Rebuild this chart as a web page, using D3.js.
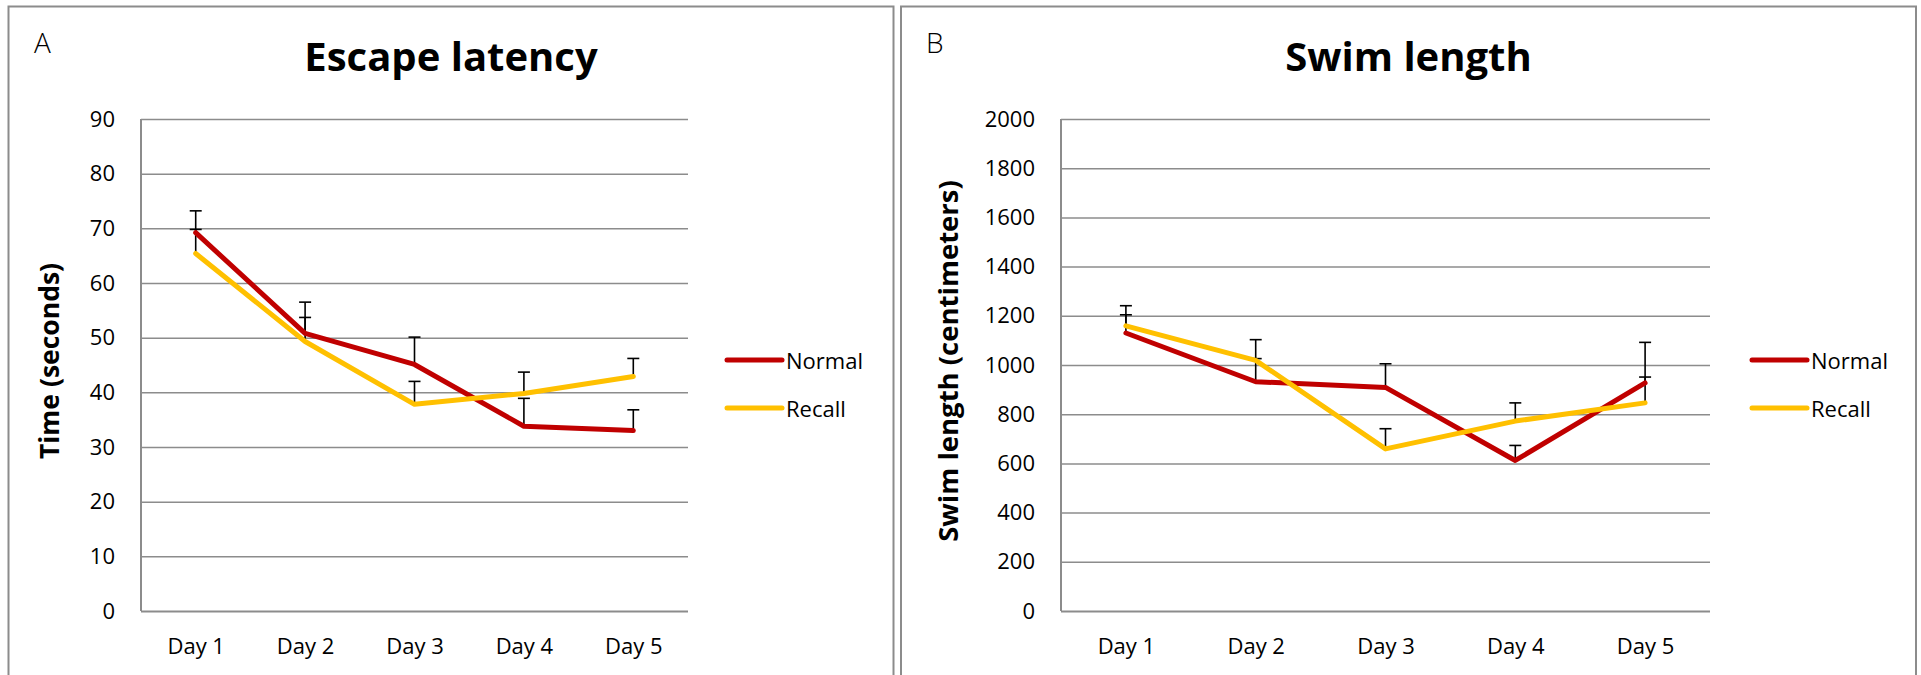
<!DOCTYPE html>
<html>
<head>
<meta charset="utf-8">
<script src="https://cdn.jsdelivr.net/npm/d3@7"></script>
<style>
    body { margin: 0; background: #fff; }
    svg { display: block; font-family: "Open Sans", "DejaVu Sans", sans-serif; }
</style>
</head>
<body>
<script>
(function() {
    // categories
    var days = ["Day 1", "Day 2", "Day 3", "Day 4", "Day 5"];
    var seriesNames = ["Normal", "Recall"];

    // escape latency (seconds)
    var latencyNormal = [69.2, 50.8, 45.1, 33.8, 33.0];
    var latencyRecall = [65.4, 49.3, 37.8, 39.8, 42.9];
    var latencyNormalErr = [4.0, 5.7, 5.0, 5.1, 3.8];
    var latencyRecallErr = [4.4, 4.4, 4.2, 3.9, 3.3];
    var latencyTicks = [0, 10, 20, 30, 40, 50, 60, 70, 80, 90];

    // swim length (centimeters)
    var swimNormal = [1130, 932, 909, 612, 927];
    var swimRecall = [1159, 1019, 659, 772, 846];
    var swimNormalErr = [74, 94, 96, 61, 165];
    var swimRecallErr = [82, 84, 82, 74, 105];
    var swimTicks = [0, 200, 400, 600, 800, 1000, 1200, 1400, 1600, 1800, 2000];

    // settings
    var colors = { Normal: "#C00000", Recall: "#FFC000" };
    var gridColor = "#8c8c8c";

    var svg = d3.select("body").append("svg")
        .attr("width", 1921)
        .attr("height", 675);

    drawPanel({
        box: [8.5, 893.5],
        plot: { left: 141, right: 688, top: 119, bottom: 611 },
        letter: "A",
        letterX: 34,
        title: "Escape latency",
        yTitle: "Time (seconds)",
        yTitleX: 49,
        yTitleSize: 26.5,
        ticks: latencyTicks,
        normal: latencyNormal, recall: latencyRecall,
        normalErr: latencyNormalErr, recallErr: latencyRecallErr,
        legendX: 727
    });

    drawPanel({
        box: [901, 1916],
        plot: { left: 1061, right: 1710, top: 119, bottom: 611 },
        letter: "B",
        letterX: 926,
        title: "Swim length",
        yTitle: "Swim length (centimeters)",
        yTitleX: 947,
        yTitleSize: 27.5,
        ticks: swimTicks,
        normal: swimNormal, recall: swimRecall,
        normalErr: swimNormalErr, recallErr: swimRecallErr,
        legendX: 1752
    });

    function drawPanel(cfg) {
        var p = cfg.plot;
        var w = p.right - p.left;
        var g = svg.append("g");

        // panel frame
        g.append("rect")
            .attr("x", cfg.box[0])
            .attr("y", 6.5)
            .attr("width", cfg.box[1] - cfg.box[0])
            .attr("height", 700)
            .attr("fill", "#fff")
            .attr("stroke", gridColor)
            .attr("stroke-width", 2);

        g.append("text")
            .attr("x", cfg.letterX)
            .attr("y", 53)
            .attr("font-size", 28)
            .attr("font-weight", 300)
            .text(cfg.letter);

        g.append("text")
            .attr("x", (cfg.box[0] + cfg.box[1]) / 2)
            .attr("y", 71)
            .attr("text-anchor", "middle")
            .attr("font-size", 40)
            .attr("font-weight", "bold")
            .text(cfg.title);

        var x = d3.scalePoint()
            .domain(days)
            .range([p.left, p.right])
            .padding(0.5);

        var y = d3.scaleLinear()
            .domain([0, d3.max(cfg.ticks)])
            .range([p.bottom, p.top]);

        // gridlines + y labels
        var yAxis = g.append("g")
            .attr("transform", "translate(" + p.left + ",0)")
            .call(d3.axisLeft(y).tickValues(cfg.ticks).tickFormat(d3.format("d"))
                .tickSize(-w).tickPadding(26));
        yAxis.attr("font-family", null).attr("font-size", null);
        yAxis.select(".domain").remove();
        yAxis.selectAll(".tick line")
            .attr("stroke", gridColor)
            .attr("stroke-width", 1.5);
        yAxis.selectAll(".tick text")
            .attr("font-size", 22)
            .attr("fill", "#000");
        yAxis.selectAll(".tick").filter(function(d) { return d === 0; })
            .select("line").attr("stroke-width", 2);

        // vertical axis line
        g.append("line")
            .attr("x1", p.left).attr("x2", p.left)
            .attr("y1", p.top).attr("y2", p.bottom)
            .attr("stroke", gridColor)
            .attr("stroke-width", 2);

        // x labels
        var xAxis = g.append("g")
            .attr("transform", "translate(0," + p.bottom + ")")
            .call(d3.axisBottom(x).tickSize(0).tickPadding(27));
        xAxis.attr("font-family", null).attr("font-size", null);
        xAxis.select(".domain").remove();
        xAxis.selectAll(".tick text")
            .attr("font-size", 22)
            .attr("fill", "#000");

        // y title
        g.append("text")
            .attr("transform", "translate(" + cfg.yTitleX + "," + ((p.top + p.bottom) / 2 - 4) + ") rotate(-90)")
            .attr("text-anchor", "middle")
            .attr("dominant-baseline", "central")
            .attr("font-size", cfg.yTitleSize)
            .attr("font-weight", "bold")
            .text(cfg.yTitle);

        var series = [
            { name: "Normal", values: cfg.normal, errs: cfg.normalErr },
            { name: "Recall", values: cfg.recall, errs: cfg.recallErr }
        ];

        // error bars (upper only)
        series.forEach(function(s) {
            var eb = g.append("g").attr("stroke", "#000").attr("stroke-width", 1.6);
            days.forEach(function(day, i) {
                var top = y(s.values[i] + s.errs[i]);
                eb.append("line")
                    .attr("x1", x(day)).attr("x2", x(day))
                    .attr("y1", y(s.values[i])).attr("y2", top);
                eb.append("line")
                    .attr("x1", x(day) - 6).attr("x2", x(day) + 6)
                    .attr("y1", top).attr("y2", top);
            });
        });

        var line = d3.line()
            .x(function(d, i) { return x(days[i]); })
            .y(function(d) { return y(d); });

        series.forEach(function(s) {
            g.append("path")
                .datum(s.values)
                .attr("d", line)
                .attr("fill", "none")
                .attr("stroke", colors[s.name])
                .attr("stroke-width", 5)
                .attr("stroke-linejoin", "round")
                .attr("stroke-linecap", "round");
        });

        // legend
        seriesNames.forEach(function(name, i) {
            var ly = 360 + i * 48;
            g.append("line")
                .attr("x1", cfg.legendX).attr("x2", cfg.legendX + 55)
                .attr("y1", ly).attr("y2", ly)
                .attr("stroke", colors[name])
                .attr("stroke-width", 5)
                .attr("stroke-linecap", "round");
            g.append("text")
                .attr("x", cfg.legendX + 59)
                .attr("y", ly)
                .attr("dominant-baseline", "central")
                .attr("font-size", 22)
                .text(name);
        });
    }
})();
</script>
</body>
</html>
